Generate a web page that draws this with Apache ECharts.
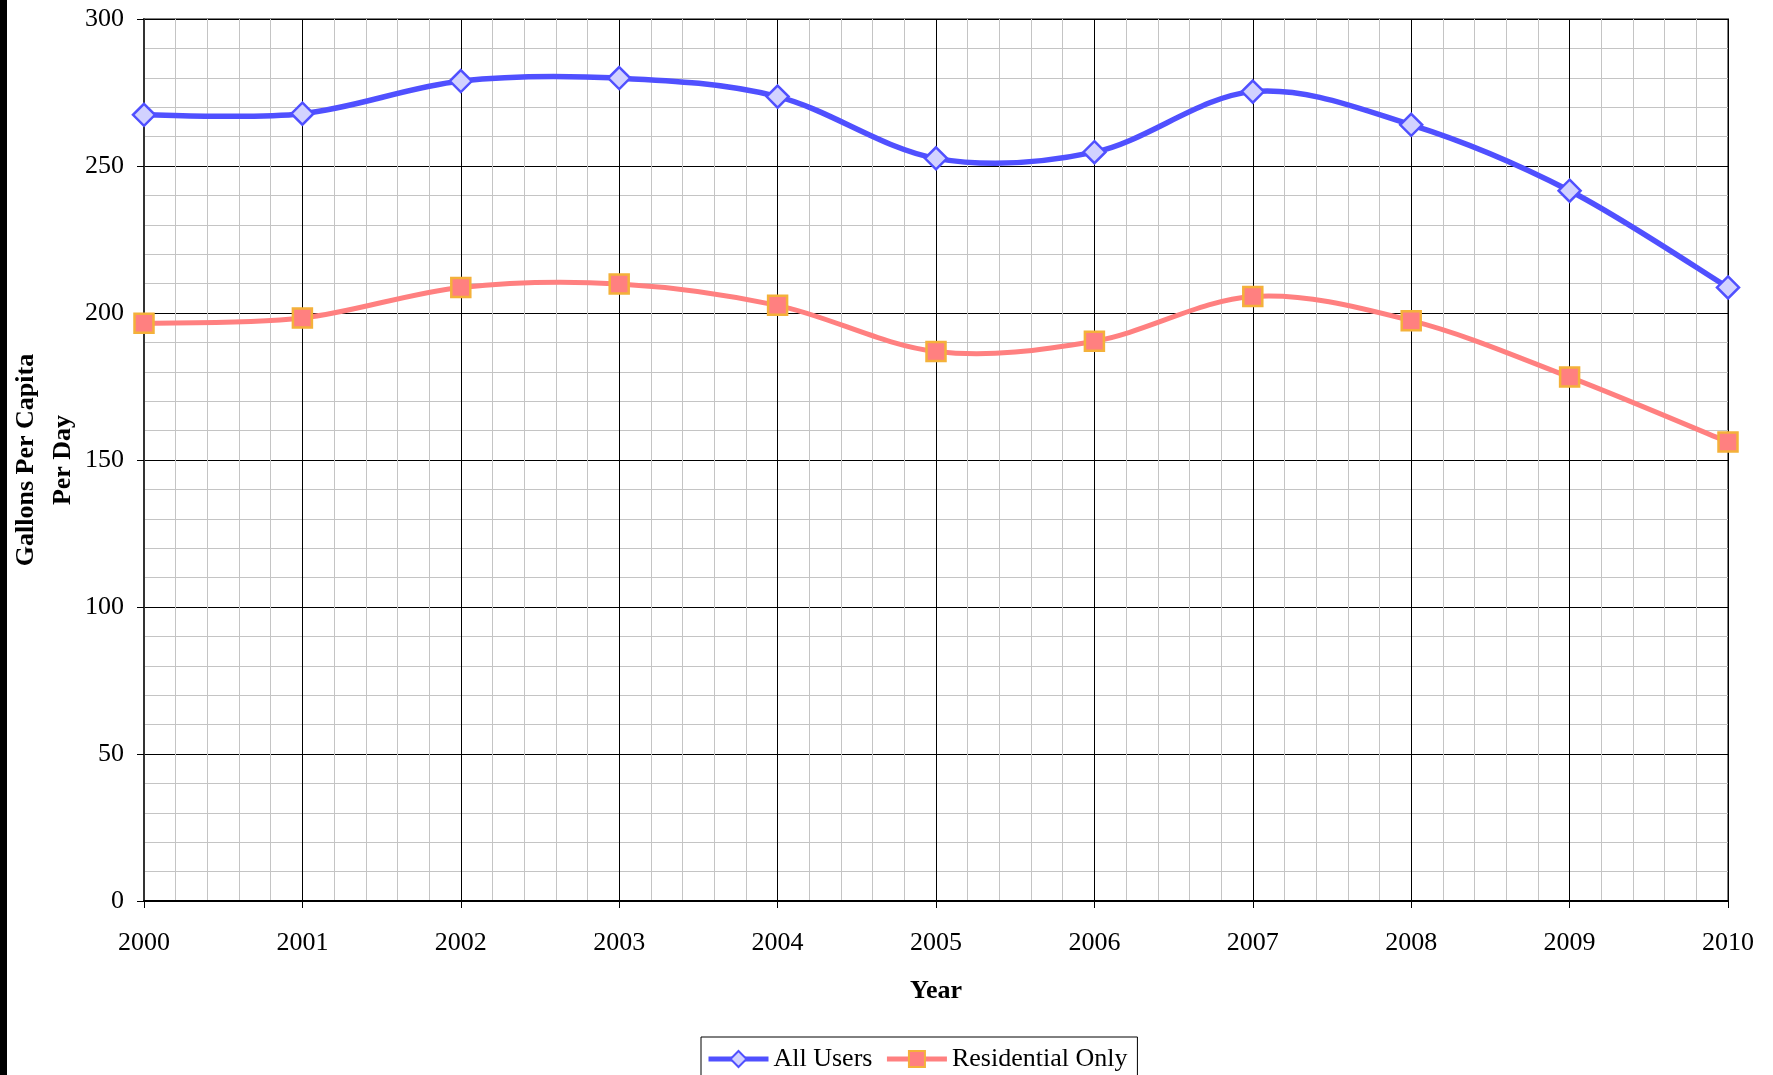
<!DOCTYPE html>
<html>
<head>
<meta charset="utf-8">
<script src="https://cdn.jsdelivr.net/npm/echarts@6/dist/echarts.min.js"></script>
<style>html,body{margin:0;padding:0;background:#fff;}#c{width:1773px;height:1075px;}</style>
</head>
<body>
<div id="c"></div>
<script>
const years = [2000, 2001, 2002, 2003, 2004, 2005, 2006, 2007, 2008, 2009, 2010];
const allUsers = [267.4, 267.8, 278.9, 279.9, 273.6, 252.6, 254.7, 275.3, 264.0, 241.6, 208.7];
const residentialOnly = [196.5, 198.3, 208.7, 209.9, 202.6, 186.9, 190.4, 205.6, 197.4, 178.2, 156.1];
const seriesNames = ['All Users', 'Residential Only'];
const xTitle = 'Year';
const yTitle = 'Gallons Per Capita\nPer Day';

const font = 'Liberation Serif';
const chart = echarts.init(document.getElementById('c'), null, {renderer: 'canvas'});
const pairs = arr => years.map((y, i) => [y, arr[i]]);

// Smooth curve (Catmull-Rom style bezier, like spreadsheet "smoothed line"), through axis coords
function curveSeries(arr, color, width, z) {
  return {
    type: 'custom', silent: true, z: z,
    data: [[years[0], arr[0]]],
    renderItem: function (params, api) {
      const p = years.map((y, i) => api.coord([y, arr[i]]));
      let d = 'M' + p[0][0] + ' ' + p[0][1];
      for (let i = 0; i < p.length - 1; i++) {
        const p0 = p[Math.max(i - 1, 0)], p1 = p[i], p2 = p[i + 1], p3 = p[Math.min(i + 2, p.length - 1)];
        const c1 = [p1[0] + (p2[0] - p0[0]) / 6, p1[1] + (p2[1] - p0[1]) / 6];
        const c2 = [p2[0] - (p3[0] - p1[0]) / 6, p2[1] - (p3[1] - p1[1]) / 6];
        d += ' C' + c1[0] + ' ' + c1[1] + ' ' + c2[0] + ' ' + c2[1] + ' ' + p2[0] + ' ' + p2[1];
      }
      return {type: 'path', shape: {pathData: d}, style: {fill: null, stroke: color, lineWidth: width, lineJoin: 'round'}};
    }
  };
}

chart.setOption({
  animation: false,
  backgroundColor: '#ffffff',
  graphic: [{type: 'rect', left: 0, top: 0, shape: {width: 7, height: 1075}, style: {fill: '#000'}}],
  grid: {left: 144, right: 45, top: 19, bottom: 174, outerBoundsMode: 'none', containLabel: false,
         show: true, borderColor: '#808080', borderWidth: 2, backgroundColor: 'transparent'},
  xAxis: {
    type: 'value', min: 2000, max: 2010, interval: 1,
    name: xTitle, nameLocation: 'middle', nameGap: 77,
    nameTextStyle: {fontFamily: font, fontSize: 26, fontWeight: 'bold', color: '#000'},
    axisLine: {show: true, onZero: false, lineStyle: {color: '#000', width: 2}},
    axisTick: {show: true, length: 7, lineStyle: {color: '#000'}},
    axisLabel: {fontFamily: font, fontSize: 26, color: '#000', margin: 29, formatter: v => String(v)},
    splitLine: {show: true, lineStyle: {color: '#000', width: 1}},
    minorTick: {show: false, splitNumber: 5},
    minorSplitLine: {show: true, lineStyle: {color: '#c4c4c4', width: 1}}
  },
  yAxis: {
    type: 'value', min: 0, max: 300, interval: 50,
    name: yTitle, nameLocation: 'middle', nameGap: 62, nameRotate: 90, nameMoveOverlap: false,
    nameTextStyle: {fontFamily: font, fontSize: 26, fontWeight: 'bold', color: '#000', lineHeight: 37},
    axisLine: {show: true, lineStyle: {color: '#333', width: 2}},
    axisTick: {show: true, length: 7, lineStyle: {color: '#000'}},
    axisLabel: {fontFamily: font, fontSize: 26, color: '#000', margin: 20},
    splitLine: {show: true, lineStyle: {color: '#000', width: 1}},
    minorTick: {show: false, splitNumber: 5},
    minorSplitLine: {show: true, lineStyle: {color: '#c4c4c4', width: 1}}
  },
  legend: {
    left: 701, top: 1037,
    data: [
      {name: seriesNames[0], lineStyle: {opacity: 1, width: 5}},
      {name: seriesNames[1], lineStyle: {opacity: 1, width: 5}}
    ],
    itemWidth: 60, itemHeight: 20, itemGap: 12,
    padding: [9, 10, 6, 5],
    borderColor: '#000', borderWidth: 1,
    textStyle: {fontFamily: font, fontSize: 26, color: '#000'}
  },
  series: [
    curveSeries(allUsers, '#5050ff', 5.5, 2),
    curveSeries(residentialOnly, '#ff8080', 5, 2),
    {
      name: seriesNames[0], type: 'line', data: pairs(allUsers),
      symbol: 'diamond', symbolSize: 22,
      lineStyle: {color: '#5050ff', width: 5, opacity: 0},
      itemStyle: {color: '#d2d2ff', borderColor: '#5050ff', borderWidth: 2.5},
      z: 3
    },
    {
      name: seriesNames[1], type: 'line', data: pairs(residentialOnly),
      symbol: 'rect', symbolSize: 19,
      lineStyle: {color: '#ff8080', width: 5, opacity: 0},
      itemStyle: {color: '#ff8080', borderColor: '#f4b13a', borderWidth: 2.5},
      z: 4
    }
  ]
});
</script>
</body>
</html>
